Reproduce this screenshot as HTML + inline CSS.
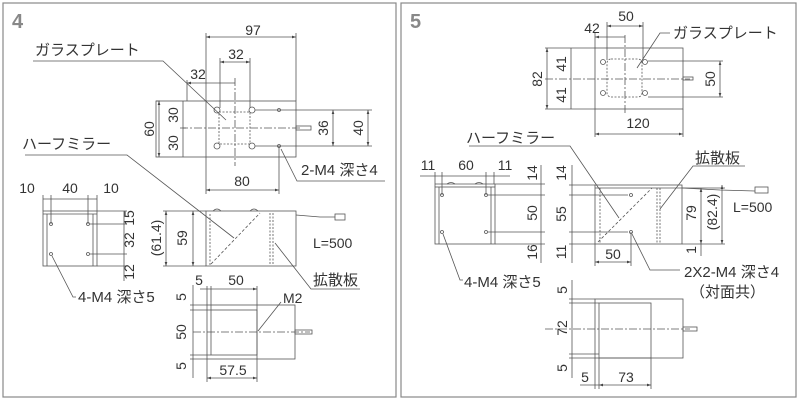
<!DOCTYPE html>
<html><head><meta charset="utf-8"><style>
html,body{margin:0;padding:0;background:#fff}
svg{display:block}
text{font-family:"Liberation Sans","Noto Sans CJK JP",sans-serif;fill:#333}
.d{font-size:14px}
.j{font-size:15px}
</style></head><body>
<svg width="800" height="400" viewBox="0 0 800 400" xmlns="http://www.w3.org/2000/svg">
<defs>
<marker id="a" viewBox="0 0 6 6" refX="6" refY="3" markerWidth="5" markerHeight="5" orient="auto-start-reverse"><path d="M0,1 L6,3 L0,5z" fill="#444"/></marker>
</defs>
<rect x="3" y="3" width="393" height="394" fill="none" stroke="#888" stroke-width="1.2"/>
<rect x="401" y="3" width="395" height="394" fill="none" stroke="#888" stroke-width="1.2"/>
<text x="12" y="28" style="font-size:20px;font-weight:bold;fill:#888">4</text>
<text x="410" y="28" style="font-size:20px;font-weight:bold;fill:#888">5</text>

<g fill="none" stroke="#555" stroke-width="0.8">
<rect x="156" y="101" width="140" height="56"/>
<rect x="219" y="112" width="31" height="32" stroke-dasharray="2,1.5"/>
<line x1="180" y1="128" x2="300" y2="128" stroke-dasharray="8,2,2,2"/>
<line x1="235" y1="78" x2="235" y2="166" stroke-dasharray="8,2,2,2"/>
<circle cx="217" cy="110" r="3"/><circle cx="252" cy="110" r="3"/><circle cx="217" cy="146" r="3"/><circle cx="252" cy="146" r="3"/>
<circle cx="279" cy="110" r="1.5"/><circle cx="279" cy="146" r="1.5"/>
<rect x="296" y="126" width="15" height="4"/>
<line x1="206" y1="33" x2="206" y2="194"/><line x1="296" y1="33" x2="296" y2="101"/>
<line x1="220" y1="58" x2="220" y2="108"/><line x1="250" y1="58" x2="250" y2="108"/>
<line x1="187" y1="80" x2="187" y2="101"/>
<line x1="279" y1="146" x2="279" y2="194"/>
<line x1="156" y1="101" x2="160" y2="101"/>
<line x1="255" y1="110" x2="372" y2="110"/><line x1="255" y1="146" x2="372" y2="146"/>
<line x1="183" y1="128" x2="186" y2="128"/>
<line x1="206" y1="37" x2="296" y2="37" marker-start="url(#a)" marker-end="url(#a)"/>
<line x1="220" y1="62" x2="250" y2="62" marker-start="url(#a)" marker-end="url(#a)"/>
<line x1="187" y1="83" x2="235" y2="83" marker-start="url(#a)"/>
<line x1="159" y1="101" x2="159" y2="157" marker-start="url(#a)" marker-end="url(#a)"/>
<line x1="183" y1="101" x2="183" y2="157"/>
<line x1="333" y1="110" x2="333" y2="146" marker-start="url(#a)" marker-end="url(#a)"/>
<line x1="368" y1="110" x2="368" y2="146" marker-start="url(#a)" marker-end="url(#a)"/>
<line x1="206" y1="190" x2="279" y2="190" marker-start="url(#a)" marker-end="url(#a)"/>
<polyline points="33,61 163,61 226,120"/>
<polyline points="25,155 127,155 234,238"/>
<polyline points="281,149 297,181 385,181"/>

<rect x="43" y="211" width="54" height="55"/>
<line x1="43" y1="214" x2="97" y2="214"/>
<line x1="47" y1="214" x2="47" y2="266"/><line x1="93" y1="214" x2="93" y2="266"/>
<circle cx="51" cy="224" r="1.5"/><circle cx="88" cy="224" r="1.5"/><circle cx="51" cy="254" r="1.5"/><circle cx="88" cy="254" r="1.5"/>
<line x1="43" y1="199" x2="97" y2="199"/>
<line x1="43" y1="195" x2="43" y2="211"/><line x1="51" y1="195" x2="51" y2="224"/><line x1="88" y1="195" x2="88" y2="224"/><line x1="97" y1="195" x2="97" y2="211"/>
<line x1="97" y1="211" x2="127" y2="211"/><line x1="90" y1="224" x2="127" y2="224"/><line x1="90" y1="254" x2="127" y2="254"/><line x1="97" y1="266" x2="127" y2="266"/>
<line x1="124" y1="211" x2="124" y2="281"/>
<polyline points="52,256 73,297 76,297"/>

<rect x="206" y="211" width="90" height="55"/>
<line x1="210" y1="214" x2="210" y2="265" stroke-dasharray="2,1.5"/>
<line x1="270" y1="213" x2="270" y2="265" stroke-dasharray="2,1.5"/>
<line x1="273" y1="213" x2="273" y2="265" stroke-dasharray="2,1.5"/>
<line x1="211" y1="264" x2="260" y2="213" stroke-dasharray="3,2"/>
<path d="M213,211 q4,-4 8,0 M250,211 q4,-4 8,0"/>
<line x1="166" y1="211" x2="166" y2="266" marker-start="url(#a)" marker-end="url(#a)"/>
<line x1="193" y1="211" x2="193" y2="266" marker-start="url(#a)" marker-end="url(#a)"/>
<line x1="163" y1="211" x2="206" y2="211"/><line x1="163" y1="266" x2="206" y2="266"/>
<polyline points="296,215 320,217 335,217"/>
<rect x="335" y="214" width="10" height="6"/>
<polyline points="275,243 311,289 360,289"/>

<rect x="207" y="305" width="88" height="54"/>
<rect x="211" y="310" width="46" height="45"/>
<line x1="193" y1="332" x2="310" y2="332" stroke-dasharray="8,2,2,2"/>
<rect x="295" y="330" width="17" height="4"/>
<line x1="207" y1="286" x2="207" y2="305"/><line x1="211" y1="286" x2="211" y2="310"/><line x1="257" y1="286" x2="257" y2="382"/>
<line x1="207" y1="359" x2="207" y2="382"/>
<line x1="200" y1="289" x2="257" y2="289" marker-end="url(#a)"/>
<line x1="190" y1="305" x2="207" y2="305"/><line x1="190" y1="310" x2="211" y2="310"/><line x1="190" y1="355" x2="211" y2="355"/><line x1="190" y1="359" x2="207" y2="359"/>
<line x1="193" y1="285" x2="193" y2="378"/>
<line x1="207" y1="378" x2="257" y2="378" marker-start="url(#a)" marker-end="url(#a)"/>
<polyline points="258,331 281,302"/>

<rect x="595" y="48" width="88" height="61"/>
<rect x="607" y="59" width="35" height="38" rx="4" stroke-dasharray="2,1.5"/>
<circle cx="603" cy="62" r="2.5"/><circle cx="645" cy="62" r="2.5"/><circle cx="603" cy="93" r="2.5"/><circle cx="645" cy="93" r="2.5"/>
<line x1="545" y1="79" x2="690" y2="79" stroke-dasharray="8,2,2,2"/>
<line x1="625" y1="35" x2="625" y2="115" stroke-dasharray="8,2,2,2"/>
<rect x="683" y="77" width="10" height="3"/>
<line x1="595" y1="33" x2="595" y2="48"/><line x1="607" y1="22" x2="607" y2="60"/><line x1="643" y1="22" x2="643" y2="60"/>
<line x1="595" y1="37" x2="625" y2="37" marker-start="url(#a)"/>
<line x1="607" y1="26" x2="643" y2="26" marker-start="url(#a)" marker-end="url(#a)"/>
<line x1="545" y1="48" x2="595" y2="48"/><line x1="545" y1="109" x2="595" y2="109"/>
<line x1="547" y1="48" x2="547" y2="109" marker-start="url(#a)" marker-end="url(#a)"/>
<line x1="571" y1="48" x2="571" y2="109"/>
<line x1="648" y1="61" x2="723" y2="61"/><line x1="648" y1="97" x2="723" y2="97"/>
<line x1="720" y1="61" x2="720" y2="97" marker-start="url(#a)" marker-end="url(#a)"/>
<line x1="595" y1="109" x2="595" y2="137"/><line x1="683" y1="109" x2="683" y2="137"/>
<line x1="595" y1="134" x2="683" y2="134" marker-start="url(#a)" marker-end="url(#a)"/>
<polyline points="637,68 660,33 670,33"/>
<polyline points="469,146 570,146 619,218"/>
<polyline points="660,209 693,166 745,166"/>

<rect x="435" y="187" width="60" height="57"/>
<line x1="435" y1="184" x2="495" y2="184"/><line x1="435" y1="184" x2="435" y2="187"/><line x1="495" y1="184" x2="495" y2="187"/>
<line x1="439" y1="187" x2="439" y2="244"/><line x1="491" y1="187" x2="491" y2="244"/>
<path d="M447,184 q4,-3 8,0 M475,184 q4,-3 8,0"/>
<circle cx="442" cy="195" r="1.5"/><circle cx="486" cy="195" r="1.5"/><circle cx="442" cy="232" r="1.5"/><circle cx="486" cy="232" r="1.5"/>
<line x1="420" y1="176" x2="510" y2="176"/>
<line x1="435" y1="172" x2="435" y2="184"/><line x1="442" y1="172" x2="442" y2="195"/><line x1="486" y1="172" x2="486" y2="195"/><line x1="494" y1="172" x2="494" y2="184"/>
<line x1="495" y1="184" x2="545" y2="184"/><line x1="488" y1="195" x2="545" y2="195"/><line x1="488" y1="232" x2="545" y2="232"/><line x1="495" y1="244" x2="545" y2="244"/>
<line x1="541" y1="165" x2="541" y2="263"/>
<polyline points="443,234 460,280 463,280"/>

<rect x="595" y="185" width="87" height="59"/>
<line x1="595" y1="188" x2="682" y2="188"/>
<line x1="600" y1="188" x2="600" y2="243" stroke-dasharray="2,1.5"/>
<line x1="657" y1="188" x2="657" y2="243" stroke-dasharray="2,1.5"/>
<line x1="660" y1="188" x2="660" y2="243" stroke-dasharray="2,1.5"/>
<line x1="598" y1="242" x2="652" y2="188" stroke-dasharray="3,2"/>
<circle cx="631" cy="195" r="1.5"/><circle cx="631" cy="232" r="1.5"/>
<line x1="569" y1="185" x2="595" y2="185"/><line x1="569" y1="195" x2="628" y2="195"/><line x1="569" y1="232" x2="628" y2="232"/><line x1="569" y1="244" x2="595" y2="244"/>
<line x1="572" y1="165" x2="572" y2="263"/>
<line x1="682" y1="188" x2="725" y2="188"/><line x1="682" y1="244" x2="725" y2="244"/>
<line x1="701" y1="188" x2="701" y2="244" marker-start="url(#a)" marker-end="url(#a)"/>
<line x1="722" y1="185" x2="722" y2="244" marker-start="url(#a)" marker-end="url(#a)"/>
<line x1="701" y1="244" x2="701" y2="256"/>
<polyline points="682,188 720,190 755,191"/>
<rect x="755" y="187" width="13" height="6"/>
<line x1="595" y1="244" x2="595" y2="266"/><line x1="631" y1="232" x2="631" y2="266"/>
<line x1="595" y1="262" x2="631" y2="262" marker-start="url(#a)" marker-end="url(#a)"/>
<polyline points="632,234 650,270 680,270"/>

<rect x="595" y="299" width="88" height="59"/>
<rect x="599" y="303" width="52" height="55"/>
<line x1="545" y1="329" x2="690" y2="329" stroke-dasharray="8,2,2,2"/>
<rect x="683" y="327" width="14" height="4"/>
<line x1="569" y1="299" x2="595" y2="299"/><line x1="569" y1="303" x2="599" y2="303"/><line x1="569" y1="354" x2="599" y2="354"/><line x1="569" y1="358" x2="595" y2="358"/>
<line x1="572" y1="280" x2="572" y2="378"/>
<line x1="595" y1="358" x2="595" y2="389"/><line x1="599" y1="358" x2="599" y2="389"/><line x1="651" y1="358" x2="651" y2="389"/>
<line x1="580" y1="385" x2="599" y2="385"/>
<line x1="599" y1="385" x2="651" y2="385" marker-start="url(#a)" marker-end="url(#a)"/>
</g>

<g class="d" text-anchor="middle">
<text x="253" y="35">97</text>
<text x="236" y="59">32</text>
<text x="198" y="79">32</text>
<text x="242" y="186">80</text>
<text x="27" y="193">10</text><text x="70" y="193">40</text><text x="111" y="193">10</text>
<text x="199" y="285">5</text><text x="236" y="285">50</text>
<text x="233" y="375">57.5</text>
<text transform="translate(154,129) rotate(-90)">60</text>
<text transform="translate(178,115) rotate(-90)">30</text>
<text transform="translate(178,143) rotate(-90)">30</text>
<text transform="translate(328,128) rotate(-90)">36</text>
<text transform="translate(363,128) rotate(-90)">40</text>
<text transform="translate(134,218) rotate(-90)">15</text>
<text transform="translate(134,240) rotate(-90)">32</text>
<text transform="translate(134,272) rotate(-90)">12</text>
<text transform="translate(161,238) rotate(-90)">(61.4)</text>
<text transform="translate(187,238) rotate(-90)">59</text>
<text transform="translate(186,297) rotate(-90)">5</text>
<text transform="translate(186,332) rotate(-90)">50</text>
<text transform="translate(186,366) rotate(-90)">5</text>
</g>
<text class="d" x="313" y="248">L=500</text>
<text class="d" x="283" y="303">M2</text>
<text class="j" x="35" y="55">ガラスプレート</text>
<text class="j" x="22" y="149">ハーフミラー</text>
<text class="j" x="301" y="175">2-M4 深さ4</text>
<text class="j" x="78" y="302">4-M4 深さ5</text>
<text class="j" x="313" y="285">拡散板</text>

<g class="d" text-anchor="middle">
<text x="592" y="33">42</text>
<text x="626" y="21">50</text>
<text x="638" y="128">120</text>
<text x="428" y="170">11</text><text x="466" y="170">60</text><text x="505" y="170">11</text>
<text x="613" y="259">50</text>
<text x="585" y="382">5</text><text x="626" y="382">73</text>
<text transform="translate(542,79) rotate(-90)">82</text>
<text transform="translate(566,64) rotate(-90)">41</text>
<text transform="translate(566,95) rotate(-90)">41</text>
<text transform="translate(715,79) rotate(-90)">50</text>
<text transform="translate(537,173) rotate(-90)">14</text>
<text transform="translate(537,213) rotate(-90)">50</text>
<text transform="translate(537,252) rotate(-90)">16</text>
<text transform="translate(566,173) rotate(-90)">14</text>
<text transform="translate(566,214) rotate(-90)">55</text>
<text transform="translate(566,252) rotate(-90)">11</text>
<text transform="translate(696,213) rotate(-90)">79</text>
<text transform="translate(717,212) rotate(-90)">(82.4)</text>
<text transform="translate(696,250) rotate(-90)">1</text>
<text transform="translate(567,290) rotate(-90)">5</text>
<text transform="translate(567,328) rotate(-90)">72</text>
<text transform="translate(567,368) rotate(-90)">5</text>
</g>
<text class="d" x="733" y="212">L=500</text>
<text class="j" x="673" y="38">ガラスプレート</text>
<text class="j" x="466" y="143">ハーフミラー</text>
<text class="j" x="695" y="163">拡散板</text>
<text class="j" x="464" y="287">4-M4 深さ5</text>
<text class="j" x="684" y="277">2X2-M4 深さ4</text>
<text class="j" x="690" y="297">（対面共）</text>
</svg>
</body></html>
